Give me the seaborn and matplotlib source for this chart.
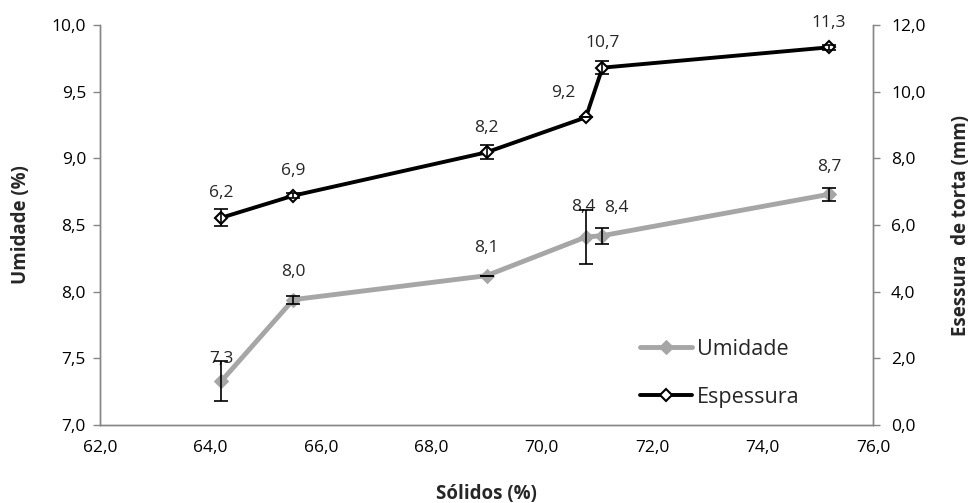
import matplotlib
matplotlib.use("Agg")
import matplotlib.pyplot as plt
import seaborn as sns
import pandas as pd

solidos = [64.2, 65.5, 69.0, 70.8, 71.1, 75.2]
umidade = [7.33, 7.94, 8.12, 8.41, 8.42, 8.73]
umidade_err = [0.15, 0.03, 0.0, 0.20, 0.06, 0.05]
umidade_labels = ["7,3", "8,0", "8,1", "8,4", "8,4", "8,7"]
espessura = [6.22, 6.88, 8.18, 9.23, 10.72, 11.33]
espessura_err = [0.25, 0.08, 0.21, 0.0, 0.20, 0.08]
espessura_labels = ["6,2", "6,9", "8,2", "9,2", "10,7", "11,3"]

xticks = [62, 64, 66, 68, 70, 72, 74, 76]
yticks_left = [7.0, 7.5, 8.0, 8.5, 9.0, 9.5, 10.0]
yticks_right = [0, 2, 4, 6, 8, 10, 12]

sns.set_style("white")
plt.rcParams["font.family"] = ["Open Sans", "DejaVu Sans"]

df_u = pd.DataFrame({"x": solidos, "y": umidade})
df_e = pd.DataFrame({"x": solidos, "y": espessura})

fig = plt.figure(figsize=(9.71, 5.03), dpi=100)
ax = fig.add_axes([100/971, (503-425)/503, (873-100)/971, 400/503])
ax2 = ax.twinx()

grey = "#A6A6A6"
sns.lineplot(data=df_u, x="x", y="y", ax=ax, color=grey, lw=3.5, marker="D",
             markersize=7, markeredgecolor=grey, label="Umidade", legend=False)
ax.errorbar(solidos, umidade, yerr=umidade_err, fmt="none", ecolor="black",
            elinewidth=1.2, capsize=5, capthick=1.2, zorder=5)

sns.lineplot(data=df_e, x="x", y="y", ax=ax2, color="black", lw=2.8, marker="D",
             markersize=6, markerfacecolor="white", markeredgecolor="black",
             markeredgewidth=1.5, label="Espessura", legend=False)
ax2.errorbar(solidos, espessura, yerr=espessura_err, fmt="none", ecolor="black",
             elinewidth=1.2, capsize=5, capthick=1.2, zorder=5)

ax.set_xlim(62, 76)
ax.set_ylim(7.0, 10.0)
ax2.set_ylim(0, 12)
ax.set_xticks(xticks)
ax.set_xticklabels([f"{v:.1f}".replace(".", ",") for v in xticks])
ax.set_yticks(yticks_left)
ax.set_yticklabels([f"{v:.1f}".replace(".", ",") for v in yticks_left])
ax2.set_yticks(yticks_right)
ax2.set_yticklabels([f"{v:.1f}".replace(".", ",") for v in yticks_right])

for a in (ax, ax2):
    a.tick_params(axis="both", direction="out", length=5, width=1, color="#868686",
                  labelsize=12.5, colors="black")
    for s in a.spines.values():
        s.set_color("#868686")
        s.set_linewidth(1)
    a.spines["top"].set_visible(False)
ax.tick_params(axis="x", pad=6)
ax.tick_params(axis="y", pad=5)
ax2.tick_params(axis="y", pad=8)

ax.set_xlabel("Sólidos (%)", fontsize=13.5, fontweight="bold", labelpad=20)
ax.set_ylabel("Umidade (%)", fontsize=13.5, fontweight="bold", labelpad=15)
ax2.set_ylabel("Esessura  de torta (mm)", fontsize=13.5, fontweight="bold", labelpad=18)

# data labels
u_off = [(0, 10), (0, 14), (0, 14), (-2, 16), (10, 14), (0, 14)]
for x, y, t, (dx, dy) in zip(solidos, umidade, umidade_labels, u_off):
    ax.annotate(t, (x, y), xytext=(dx, dy), textcoords="offset points",
                ha="center", va="bottom", fontsize=12.5)
e_off = [(0, 12), (0, 12), (0, 12), (-16, 12), (0, 12), (0, 12)]
for x, y, t, (dx, dy) in zip(solidos, espessura, espessura_labels, e_off):
    ax2.annotate(t, (x, y), xytext=(dx, dy), textcoords="offset points",
                 ha="center", va="bottom", fontsize=12.5)

h1, l1 = ax.get_legend_handles_labels()
h2, l2 = ax2.get_legend_handles_labels()
leg = ax2.legend(h1 + h2, l1 + l2, loc="lower right", bbox_to_anchor=(0.925, 0.005),
                 frameon=False, fontsize=15.5, handlelength=2.4, labelspacing=1.25,
                 handletextpad=0.25, borderpad=0.2)

fig.savefig("out.png", dpi=100)
